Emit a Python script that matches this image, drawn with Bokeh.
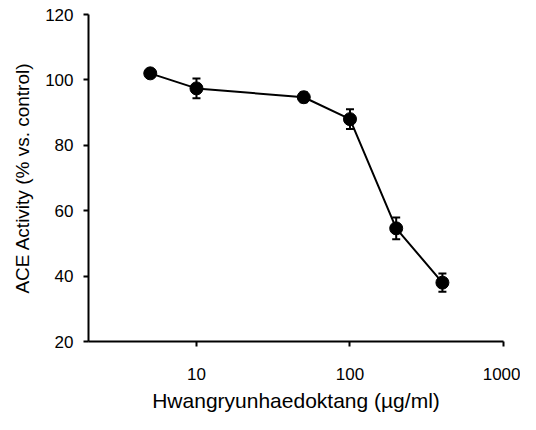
from bokeh.plotting import figure
from bokeh.models import FixedTicker, Whisker, TeeHead, ColumnDataSource, Range1d
from bokeh.embed import file_html
from bokeh.resources import INLINE

conc = [5, 10, 50, 100, 200, 400]
activity = [102, 97.4, 94.7, 88, 54.6, 38]
err = [1, 3, 1.5, 3, 3.3, 2.8]
x_ticks = [10, 100, 1000]
y_ticks = [20, 40, 60, 80, 100, 120]

src = ColumnDataSource(dict(
    x=conc, y=activity,
    lo=[a - e for a, e in zip(activity, err)],
    hi=[a + e for a, e in zip(activity, err)],
))

p = figure(width=520, height=414, x_axis_type="log", output_backend="svg",
           toolbar_location=None, x_range=Range1d(1.98, 1000), y_range=Range1d(20, 120),
           min_border_left=88, min_border_right=17, min_border_top=14, min_border_bottom=73)
p.outline_line_color = None
p.grid.visible = False
p.background_fill_color = "white"

p.line("x", "y", source=src, line_color="black", line_width=2)
w = Whisker(base="x", lower="lo", upper="hi", source=src, line_color="black", line_width=2,
            upper_head=TeeHead(size=8, line_color="black", line_width=2),
            lower_head=TeeHead(size=8, line_color="black", line_width=2))
p.add_layout(w)
p.scatter("x", "y", source=src, size=13, color="black")

font = "Liberation Sans"
for ax in (p.xaxis[0], p.yaxis[0]):
    ax.axis_line_width = 2
    ax.axis_line_color = "black"
    ax.major_tick_line_width = 2
    ax.major_tick_line_color = "black"
    ax.major_tick_out = 5
    ax.major_tick_in = 0
    ax.minor_tick_line_color = None
    ax.major_label_text_font = font
    ax.major_label_text_font_size = "17px"
    ax.major_label_text_color = "black"
    ax.axis_label_text_font = font
    ax.axis_label_text_font_style = "normal"
    ax.axis_label_text_color = "black"

p.xaxis.ticker = FixedTicker(ticks=x_ticks)
p.xaxis.major_label_overrides = {t: str(t) for t in x_ticks}
p.xaxis.major_label_standoff = 21
p.xaxis.axis_label = "Hwangryunhaedoktang (µg/ml)"
p.xaxis.axis_label_text_font_size = "21px"
p.xaxis.axis_label_standoff = 6

p.yaxis.ticker = FixedTicker(ticks=y_ticks)
p.yaxis.major_label_standoff = 10
p.yaxis.axis_label = "ACE Activity (% vs. control)"
p.yaxis.axis_label_text_font_size = "19px"
p.yaxis.axis_label_standoff = 9

open("out.html", "w").write(file_html(p, INLINE))
